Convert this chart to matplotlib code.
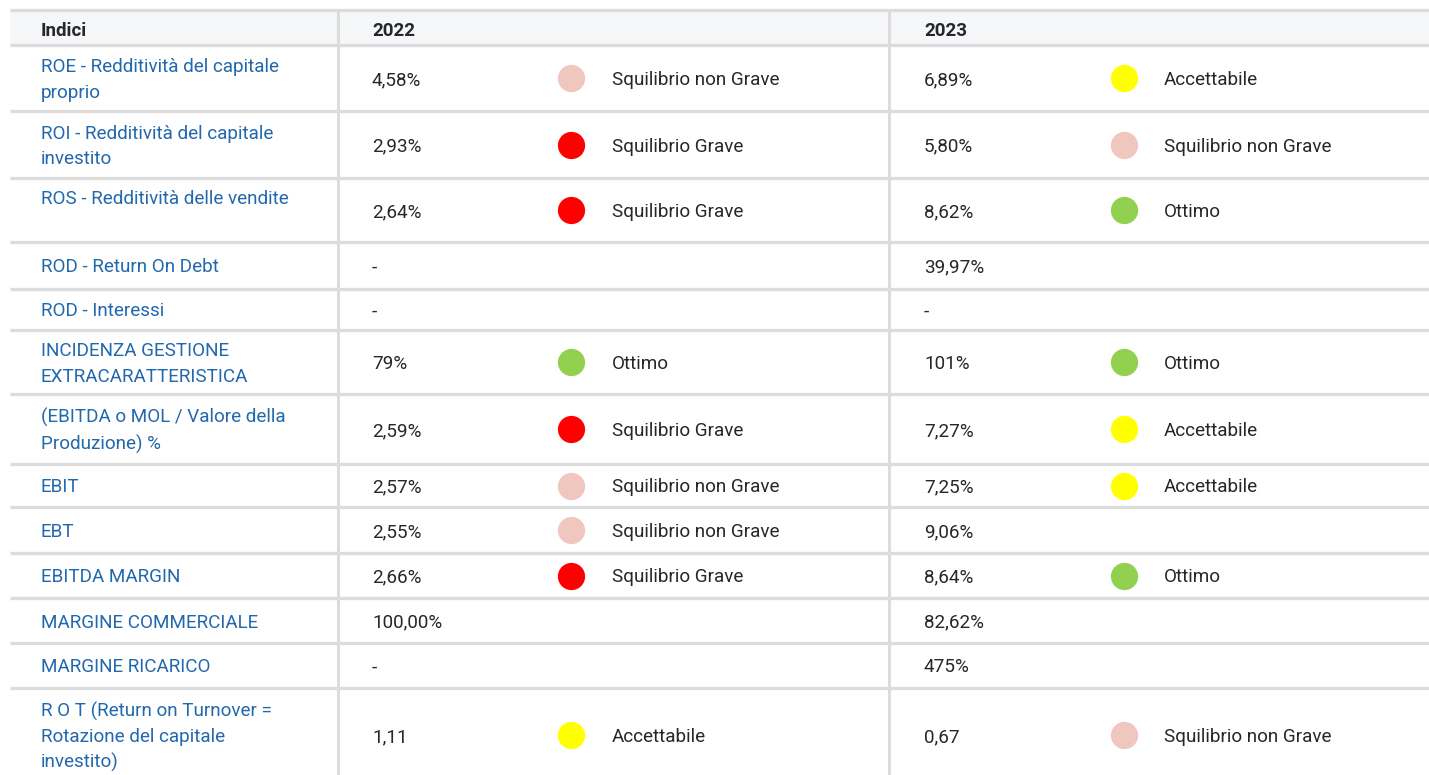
import matplotlib
matplotlib.use("Agg")
import matplotlib.pyplot as plt

# --- table content ---
indici = [
    "ROE - Redditività del capitale\nproprio",
    "ROI - Redditività del capitale\ninvestito",
    "ROS - Redditività delle vendite\n ",
    "ROD - Return On Debt",
    "ROD - Interessi",
    "INCIDENZA GESTIONE\nEXTRACARATTERISTICA",
    "(EBITDA o MOL / Valore della\nProduzione) %",
    "EBIT",
    "EBT",
    "EBITDA MARGIN",
    "MARGINE COMMERCIALE",
    "MARGINE RICARICO",
    "R O T (Return on Turnover =\nRotazione del capitale\ninvestito)",
]
valori_2022 = ["4,58%", "2,93%", "2,64%", "-", "-", "79%", "2,59%", "2,57%",
               "2,55%", "2,66%", "100,00%", "-", "1,11"]
stato_2022 = ["Squilibrio non Grave", "Squilibrio Grave", "Squilibrio Grave", "", "",
              "Ottimo", "Squilibrio Grave", "Squilibrio non Grave", "Squilibrio non Grave",
              "Squilibrio Grave", "", "", "Accettabile"]
valori_2023 = ["6,89%", "5,80%", "8,62%", "39,97%", "-", "101%", "7,27%", "7,25%",
               "9,06%", "8,64%", "82,62%", "475%", "0,67"]
stato_2023 = ["Accettabile", "Squilibrio non Grave", "Ottimo", "", "",
              "Ottimo", "Accettabile", "Accettabile", "",
              "Ottimo", "", "", "Squilibrio non Grave"]
intestazioni = ["Indici", "2022", "2023"]

colori_stato = {
    "Ottimo": "#92d050",
    "Accettabile": "#ffff00",
    "Squilibrio non Grave": "#efc7be",
    "Squilibrio Grave": "#ff0000",
}

# --- layout (pixels) ---
W, H = 1429, 775
row_heights = [66, 67, 64, 47, 41, 64, 70, 43, 46, 45, 45, 45, 94]
top, header_h = 10, 35
x_left, x_v1, x_v2 = 10, 338, 889
grid_col = "#dcdcdc"
blue = "#2268ad"
dark = "#26272b"
dy = 2  # small downward nudge so text sits like the original

plt.rcParams["font.family"] = ["Roboto", "DejaVu Sans"]

fig = plt.figure(figsize=(W / 100, H / 100), dpi=100)
ax = fig.add_axes([0, 0, 1, 1])
ax.set_xlim(0, W)
ax.set_ylim(H, 0)
ax.axis("off")

# header
ax.add_patch(plt.Rectangle((x_left, top), W - x_left, header_h, color="#f6f7f9", lw=0))
hy = top + header_h / 2 + 3
for x, t in zip([41, 372, 924], intestazioni):
    ax.text(x, hy, t, fontsize=13.5, fontweight="bold", color=dark, va="center", ha="left")

# grid lines
y = top + header_h
ax.hlines([top, y], x_left, W, color=grid_col, lw=2.4)
ax.vlines([x_v1, x_v2], top, H, color=grid_col, lw=2.2)

fs = 13.6
for i, h in enumerate(row_heights):
    cy = y + h / 2
    ax.text(41, cy + dy, indici[i], fontsize=fs, color=blue, va="center", ha="left",
            linespacing=1.5)
    for (xv, xc, xs), val, st in [((372, 571, 612), valori_2022[i], stato_2022[i]),
                                   ((924, 1124, 1164), valori_2023[i], stato_2023[i])]:
        ax.text(xv, cy + dy, val, fontsize=fs, color=dark, va="center", ha="left")
        if st:
            ax.scatter([xc], [cy], s=385, color=colori_stato[st], lw=0, zorder=3)
            ax.text(xs, cy + dy, st, fontsize=fs, color=dark, va="center", ha="left")
    y += h
    if y < H:
        ax.hlines(y, x_left, W, color=grid_col, lw=2.4)

fig.savefig("out.png", dpi=100)
